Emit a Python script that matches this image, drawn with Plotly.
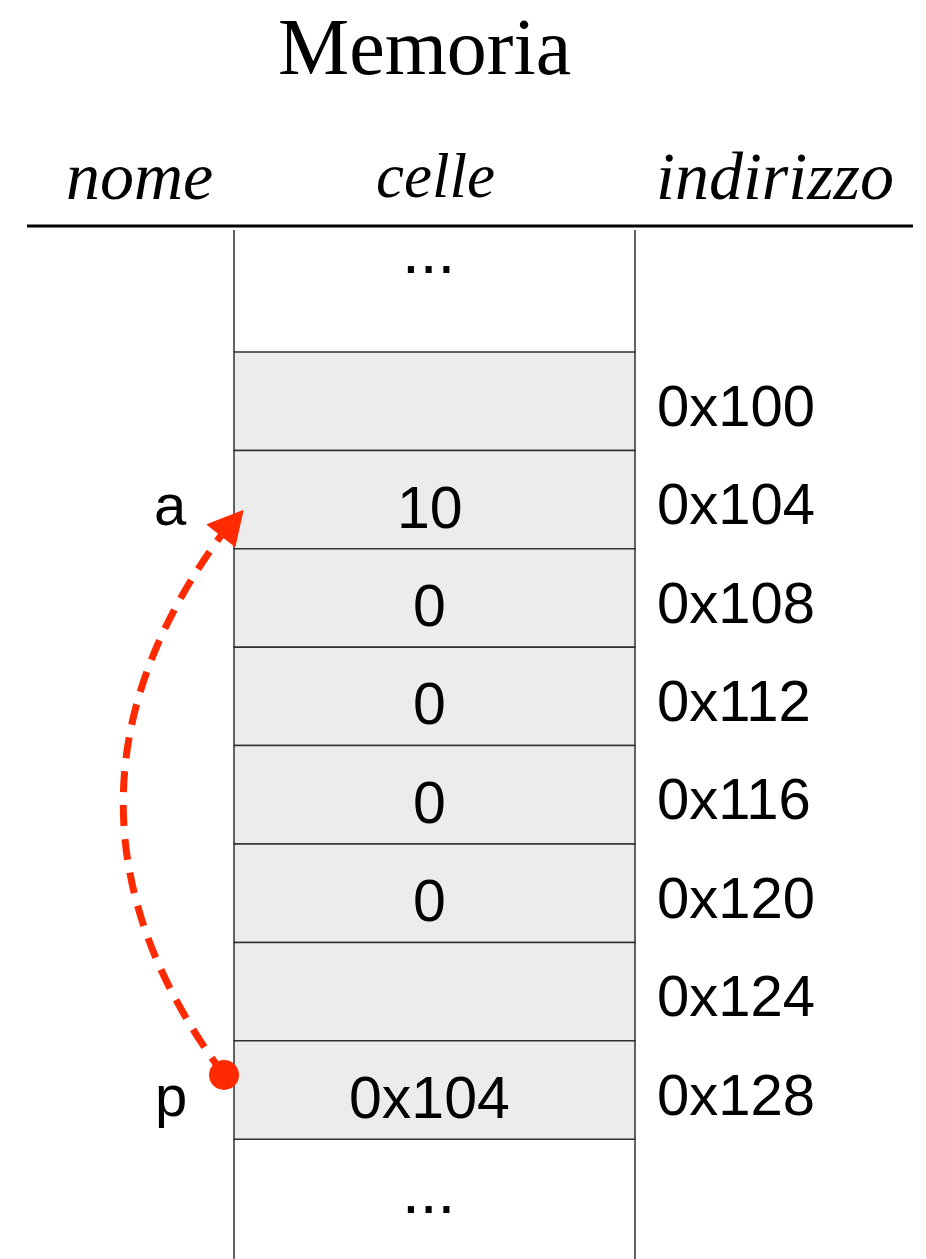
import plotly.graph_objects as go

# ---- data ----
title_text = "Memoria"
headers = ["nome", "celle", "indirizzo"]
addresses = ["0x100", "0x104", "0x108", "0x112", "0x116", "0x120", "0x124", "0x128"]
cell_values = ["", "10", "0", "0", "0", "0", "", "0x104"]
names = ["", "a", "", "", "", "", "", "p"]
pointer_from = "p"
pointer_to = "a"

# ---- layout geometry (pixels, y downward) ----
W, H = 926, 1259
X_L, X_R = 234, 635
ROW_TOP, ROW_H = 352, 98.4
GRAY = "#ececec"
EDGE = "#303030"
RED = "#ff2a00"
SANS = "Liberation Sans"
SERIF = "Liberation Serif"

fig = go.Figure()
shapes = []
ann = []

def row_y(i):
    return ROW_TOP + i * ROW_H

# gray cells
for i, v in enumerate(cell_values):
    shapes.append(dict(type="rect", xref="x", yref="y", x0=X_L, x1=X_R,
                       y0=row_y(i), y1=row_y(i + 1), fillcolor=GRAY,
                       line=dict(color=EDGE, width=1.5), layer="below"))
    yc = (row_y(i) + row_y(i + 1)) / 2
    if v:
        ann.append(dict(x=(X_L + X_R) / 2 - 5, y=yc + 8, text=v, showarrow=False,
                        font=dict(family=SANS, size=59, color="black"),
                        xanchor="center", yanchor="middle"))
    ann.append(dict(x=655, y=yc + 4, text=addresses[i], showarrow=False,
                    font=dict(family=SANS, size=58, color="black"),
                    xanchor="left", yanchor="middle"))
    if names[i]:
        ann.append(dict(x=189, y=yc + 5, text=names[i], showarrow=False,
                        font=dict(family=SANS, size=58, color="black"),
                        xanchor="right", yanchor="middle"))

# top and bottom open cells
n = len(cell_values)
for (ya, yb) in [(230, ROW_TOP), (row_y(n), H)]:
    for xv in (X_L, X_R):
        shapes.append(dict(type="line", xref="x", yref="y", x0=xv, x1=xv,
                           y0=ya, y1=yb, line=dict(color=EDGE, width=1.5)))
for yd in (251, 1191):
    ann.append(dict(x=(X_L + X_R) / 2 - 6, y=yd, text="...", showarrow=False,
                    font=dict(family=SANS, size=64, color="black"),
                    xanchor="center", yanchor="middle"))

# header rule
shapes.append(dict(type="line", xref="x", yref="y", x0=27, x1=913, y0=226, y1=226,
                   line=dict(color="black", width=3)))

# title and headers
ann.append(dict(x=424, y=47, text=title_text, showarrow=False,
                font=dict(family=SERIF, size=80, color="black"),
                xanchor="center", yanchor="middle"))
for hx, ht, hs in zip([139, 435, 775], headers, [68, 63, 68]):
    ann.append(dict(x=hx, y=176, text=ht, showarrow=False,
                    font=dict(family=SERIF, size=hs, color="black", style="italic"),
                    xanchor="center", yanchor="middle"))

# pointer arrow from p to a
i_from = names.index(pointer_from)
i_to = names.index(pointer_to)
y_from = (row_y(i_from) + row_y(i_from + 1)) / 2 - 15
y_tip = (row_y(i_to) + row_y(i_to + 1)) / 2 + 11
x0, y0 = 224, y_from
x2, y2 = 221, y_tip + 25
cx, cy = 24, (y0 + y2) / 2
shapes.append(dict(type="path", xref="x", yref="y",
                   path=f"M {x0},{y0} Q {cx},{cy} {x2},{y2}",
                   line=dict(color=RED, width=7, dash="21px,13px")))
shapes.append(dict(type="path", xref="x", yref="y",
                   path=f"M 243,{y_tip} L 207,{y_tip+14} L 235,{y_tip+36} Z",
                   fillcolor=RED, line=dict(color=RED, width=1)))
shapes.append(dict(type="circle", xref="x", yref="y", x0=x0 - 15, x1=x0 + 15,
                   y0=y0 - 15, y1=y0 + 15, fillcolor=RED, line=dict(color=RED, width=0)))

fig.update_layout(
    width=W, height=H, margin=dict(l=0, r=0, t=0, b=0),
    paper_bgcolor="white", plot_bgcolor="white",
    xaxis=dict(range=[0, W], visible=False, fixedrange=True),
    yaxis=dict(range=[H, 0], visible=False, fixedrange=True),
    shapes=shapes, annotations=ann, showlegend=False,
)
fig.write_html("out.html", config={"displayModeBar": False},
               post_script="document.body.style.margin='0';document.body.style.overflow='hidden';")
